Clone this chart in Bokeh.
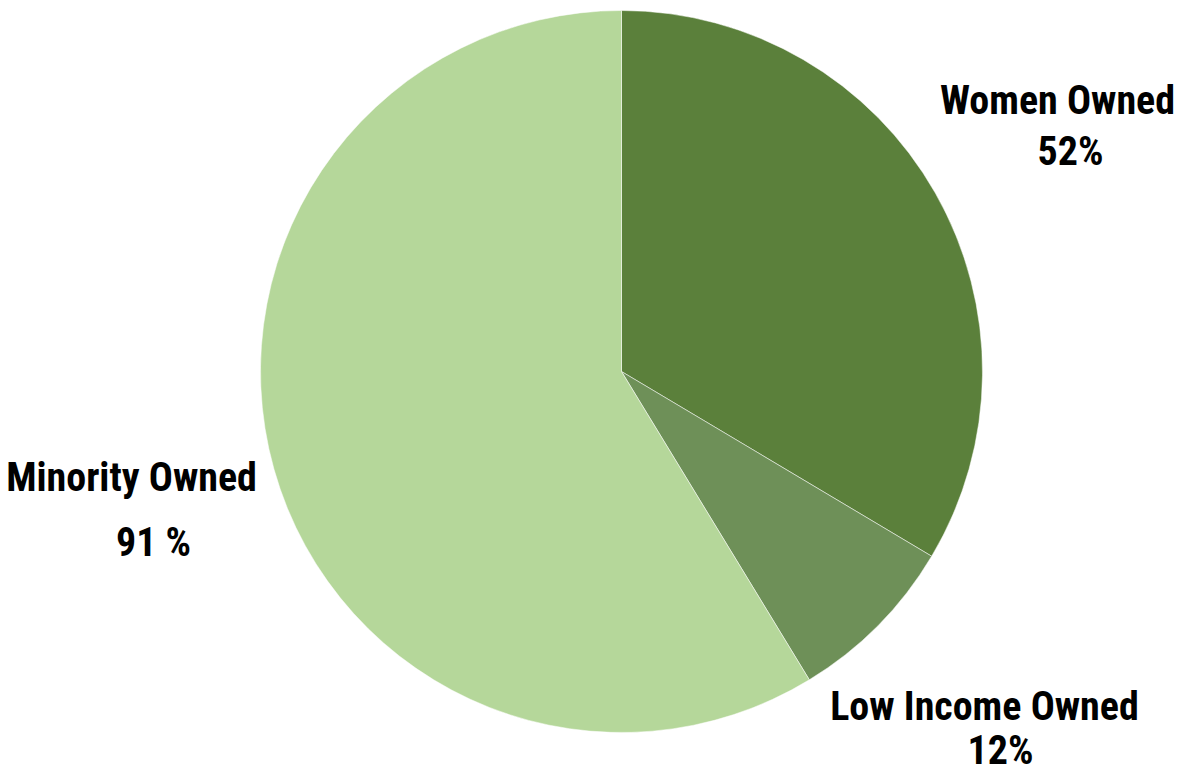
import math
from bokeh.plotting import figure
from bokeh.models import Range1d, ColumnDataSource
from bokeh.core.properties import value
from bokeh.embed import file_html
from bokeh.resources import INLINE

# ---- data ----
categories = ["Women Owned", "Low Income Owned", "Minority Owned"]
percents = [52, 12, 91]
pct_text = ["52%", "12%", "91 %"]
colors = ["#5B803B", "#6E9058", "#B5D79A"]

# ---- layout ----
W, H = 1180, 773
cx, cy_px, R = 621, 371, 361
BASE_FIX = 14  # svg alphabetic baseline offset compensation
name_pos = [(1057, 114), (984, 720), (131, 491)]   # (x, baseline px from top)
pct_pos = [(1070, 165), (1000, 764), (153, 556)]

total = sum(percents)
starts, ends = [], []
acc = 0.0
for v in percents:
    starts.append(math.pi / 2 - 2 * math.pi * acc / total)
    acc += v
    ends.append(math.pi / 2 - 2 * math.pi * acc / total)

src = ColumnDataSource(dict(cat=categories, val=percents, start=starts, end=ends, color=colors,
                            x=[cx] * 3, y=[H - cy_px] * 3))

p = figure(width=W, height=H, x_range=Range1d(0, W), y_range=Range1d(0, H),
           output_backend="svg", toolbar_location=None, min_border=0)
p.axis.visible = False
p.grid.visible = False
p.outline_line_color = None
p.background_fill_color = "white"

p.wedge(x="x", y="y", radius=R, radius_units="screen", start_angle="start", end_angle="end",
        direction="clock", fill_color="color", line_color="white", line_width=0.5, source=src)

font = value("'Roboto Condensed', sans-serif")
p.text(x=[q[0] for q in name_pos], y=[H - q[1] + BASE_FIX for q in name_pos], text=categories,
       text_font=font, text_font_style="bold", text_font_size="40px", text_color="black",
       text_align="center", text_baseline="alphabetic")
p.text(x=[q[0] for q in pct_pos], y=[H - q[1] + BASE_FIX for q in pct_pos], text=pct_text,
       text_font=font, text_font_style="bold", text_font_size="40px", text_color="black",
       text_align="center", text_baseline="alphabetic")

open("out.html", "w").write(file_html(p, INLINE))
